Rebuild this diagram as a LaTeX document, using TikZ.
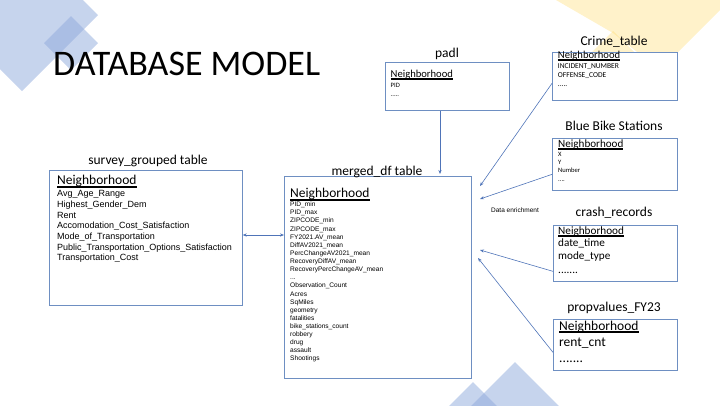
\documentclass[tikz,border=0pt]{standalone}
\usepackage{fontspec}
\setmainfont{Carlito}
\newfontfamily\arial{Liberation Sans}
\usetikzlibrary{arrows.meta,calc}
\newcommand\fs[1]{\fontsize{#1bp}{#1bp}\selectfont}
\newcommand\ulword[1]{\setbox0\hbox{#1}\rlap{\vrule width\wd0 height -0.09em depth 0.25em}\box0}
\newcommand\threedots{...}
\definecolor{boxblue}{HTML}{6E8FC2}
\definecolor{arrblue}{HTML}{4F74B8}
\definecolor{decoblue}{HTML}{8EA9DB}
\definecolor{decoyel}{HTML}{FFD966}
\begin{document}
\begin{tikzpicture}[x=1bp,y=-1bp,
  tbl/.style={draw=boxblue, fill=white, line width=0.7bp, inner sep=0, anchor=north west},
  ttl/.style={anchor=base, inner sep=0, font=\fs{13.5}},
  fld/.style={anchor=base west, inner sep=0},
  arr/.style={draw=arrblue, line width=0.6bp, -{Stealth[length=4bp,width=3.2bp]}},
  dblue/.style={fill=decoblue, fill opacity=0.5},
  dyel/.style={fill=decoyel, fill opacity=0.35}]
\useasboundingbox (0,0) rectangle (720,405);
% background decoration
\begin{scope}
\clip (0,0) rectangle (720,405);
\fill[dblue] (98,15) -- (22,91) -- (-54,15) -- (22,-61) -- cycle;
\fill[dblue] (98,43) -- (71,70) -- (44,43) -- (71,16) -- cycle;
\fill[dblue] (515,362) -- (575,422) -- (515,482) -- (455,422) -- cycle;
\fill[dblue] (473,382) -- (513,422) -- (473,462) -- (433,422) -- cycle;
\fill[dyel] (556,0) -- (613,33) -- (660,70) -- (720,10) -- (720,0) -- cycle;
\fill[dyel] (613,31) -- (637,55) -- (613,79) -- (589,55) -- cycle;
\end{scope}
% title
\node[fld, font=\fs{36}] (title) at (53,75) {DATABASE MODEL};
% tables
\node[tbl, minimum width=124bp, minimum height=48bp] (padl) at (385,62) {};
\node[tbl, minimum width=125bp, minimum height=48bp] (crime) at (552,52) {};
\node[tbl, minimum width=125bp, minimum height=52bp] (blue) at (552,138) {};
\node[tbl, minimum width=124bp, minimum height=56bp] (crash) at (553,225) {};
\node[tbl, minimum width=124bp, minimum height=51bp] (prop) at (553,319) {};
\node[tbl, minimum width=187bp, minimum height=202bp] (merged) at (284,176) {};
\node[tbl, minimum width=193bp, minimum height=135bp] (survey) at (49,170) {};
% table titles
\node[ttl] (tpadl) at (447,57) {padl};
\node[ttl] (tcrime) at (614,45) {Crime\_table};
\node[ttl] (tblue) at (614,130) {Blue Bike Stations};
\node[ttl] (tcrash) at (614,216.7) {crash\_records};
\node[ttl] (tprop) at (614,311.7) {propvalues\_FY23};
\node[ttl] (tmerged) at (377,175) {merged\_df table};
\node[ttl] (tsurvey) at (148,164) {survey\_grouped table};
% padl fields
\node[fld, font=\fs{10.6}] (p0) at (390.5,77.3) {\ulword{Neighborhood}};
\node[fld, font=\fs{6.6}] (p1) at (390.5,87.3) {PID};
\node[fld, font=\fs{6.6}] (p2) at (390.5,96.7) {.....};
% crime fields
\node[fld, font=\fs{10.6}] (c0) at (557.7,58.3) {\ulword{Neighborhood}};
\node[fld, font=\fs{7.5}] (c1) at (557.7,68.3) {INCIDENT\_NUMBER};
\node[fld, font=\fs{7.5}] (c2) at (557.7,77.3) {OFFENSE\_CODE};
\node[fld, font=\fs{7.5}] (c3) at (557.7,86.7) {.....};
% blue bike fields
\node[fld, font=\fs{11.1}] (b0) at (558,147.3) {\ulword{Neighborhood}};
\node[fld, font=\fs{6.6}] (b1) at (558,156.7) {X};
\node[fld, font=\fs{6.6}] (b2) at (558,164) {Y};
\node[fld, font=\fs{6.6}] (b3) at (558,172.3) {Number};
\node[fld, font=\fs{6.6}] (b4) at (558,181) {....};
% crash fields
\node[fld, font=\fs{11.2}] (r0) at (558,234.3) {\ulword{Neighborhood}};
\node[fld, font=\fs{11.2}] (r1) at (558,246.7) {date\_time};
\node[fld, font=\fs{11.2}] (r2) at (558,259.5) {mode\_type};
\node[fld, font=\fs{11.2}] (r3) at (558,273) {.......};
% propvalues fields
\node[fld, font=\fs{13.5}] (v0) at (559,330) {\ulword{Neighborhood}};
\node[fld, font=\fs{13.5}] (v1) at (559,346) {rent\_cnt};
\node[fld, font=\fs{13.5}] (v2) at (559,362.7) {.......};
% merged fields
\node[fld, font=\fs{13.5}] (m) at (290,197.7) {\ulword{Neighborhood}};
\foreach \t [count=\i from 0] in {PID\_min,PID\_max,ZIPCODE\_min,ZIPCODE\_max,FY2021.AV\_mean,DiffAV2021\_mean,PercChangeAV2021\_mean,RecoveryDiffAV\_mean,RecoveryPercChangeAV\_mean,\threedots,Observation\_Count,Acres,SqMiles,geometry,fatalities,bike\_stations\_count,robbery,drug,assault,Shootings}
  \node[fld, font=\arial\fs{6.6}] (m\i) at (290,{206.7+8.12*\i}) {\t};
% survey fields
\node[fld, font=\fs{13.5}] (s) at (57,184.3) {\ulword{Neighborhood}};
\foreach \t [count=\i from 0] in {Avg\_Age\_Range,Highest\_Gender\_Dem,Rent,Accomodation\_Cost\_Satisfaction,Mode\_of\_Transportation,Public\_Transportation\_Options\_Satisfaction,Transportation\_Cost}
  \node[fld, font=\arial\fs{9}] (s\i) at (57,{196.7+10.67*\i}) {\t};
% label
\node[inner sep=0, font=\arial\fs{6.5}] (enrich) at (515,210) {Data enrichment};
% connectors
\coordinate (ly) at (0,235);
\coordinate (tpad) at (440,174);
\coordinate (tcr) at (480,186);
\coordinate (tbl) at (480,199);
\coordinate (tca) at (480,250);
\coordinate (tpr) at (478,258);
\draw[arr, {Stealth[length=4bp,width=3.2bp]}-{Stealth[length=4bp,width=3.2bp]}] (survey.east |- ly) -- (merged.west |- ly);
\draw[arr] (tpad |- padl.south) -- (tpad);
\draw[arr] ($(crime.west)+(0,7)$) -- (tcr);
\draw[arr] ($(blue.west)+(0,10)$) -- (tbl);
\draw[arr] ($(crash.west)+(0,18)$) -- (tca);
\draw[arr] ($(prop.west)+(0,7.5)$) -- (tpr);
\end{tikzpicture}
\end{document}
